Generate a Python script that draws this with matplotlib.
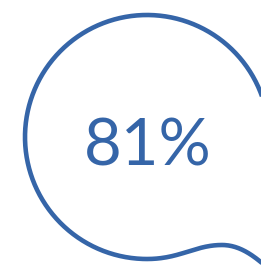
import numpy as np
import matplotlib
matplotlib.use('Agg')
import matplotlib.pyplot as plt

# value shown in the bubble
value = 81
label = '{}%'.format(value)

# bubble outline in pixel coords (y down)
cx, cy, r = 147., 137., 122.
tail_x = [147., 180., 195., 222., 240., 255., 272.]
tail_y = [259., 259., 245., 245., 245., 256., 272.]

col = '#3565a8'

def bezier(p0, p1, p2, p3, n=60):
    t = np.linspace(0., 1., n)[:, None]
    pts = (1-t)**3*p0 + 3*(1-t)**2*t*p1 + 3*(1-t)*t**2*p2 + t**3*p3
    return pts[:, 0], pts[:, 1]

fig = plt.figure(figsize=(2.61, 2.76), dpi=100)
ax = fig.add_axes([0, 0, 1, 1])
ax.set_xlim(0, 261) ; ax.set_ylim(276, 0)
ax.axis('off')

# circle part: from right side round the top, left and bottom
tt = np.radians(np.linspace(0., 270., 400))
xs = cx + r*np.cos(tt)
ys = cy - r*np.sin(tt)

P = np.array(list(zip(tail_x, tail_y)))
bx1, by1 = bezier(P[0], P[1], P[2], P[3])
bx2, by2 = bezier(P[3], P[4], P[5], P[6])

xx = np.concatenate([xs, bx1, bx2])
yy = np.concatenate([ys, by1, by2])
ax.plot(xx, yy, color=col, lw=3.3, solid_capstyle='butt')

ax.text(148, 166, label, ha='center', va='baseline', color=col,
        fontsize=47, family='Lato', fontweight='normal')

fig.savefig('out.png', dpi=100)
